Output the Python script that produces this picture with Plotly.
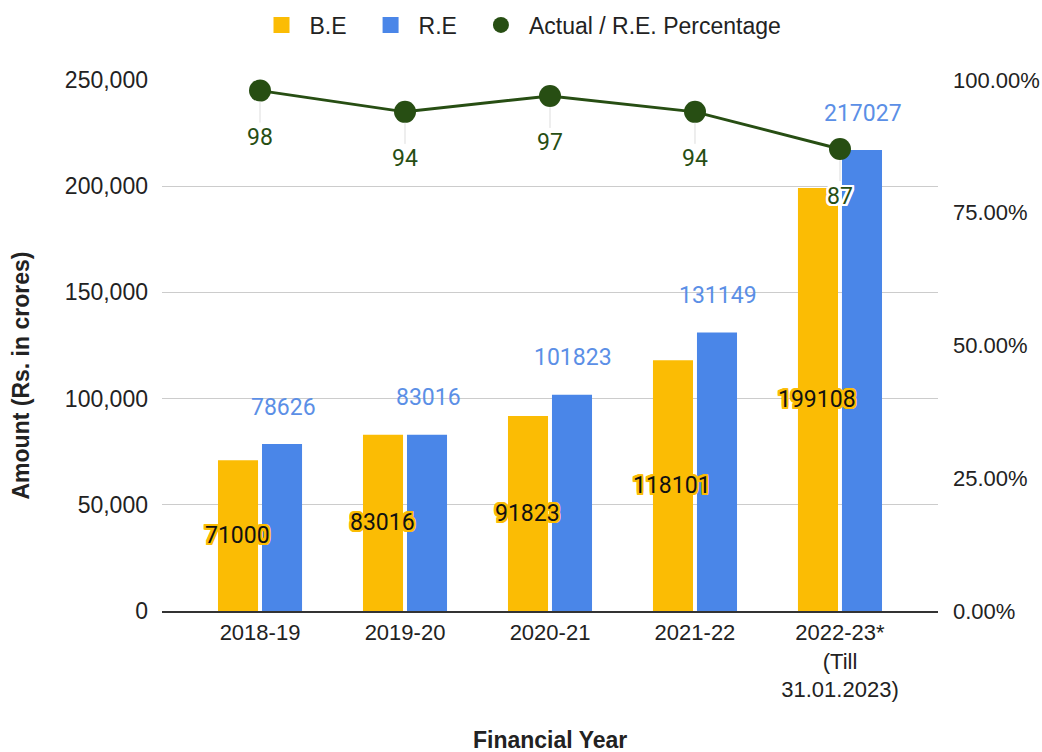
import plotly.graph_objects as go

years = ["2018-19", "2019-20", "2020-21", "2021-22", "2022-23*<br>(Till<br>31.01.2023)"]
be_values = [71000, 83016, 91823, 118101, 199108]
re_values = [78626, 83016, 101823, 131149, 217027]
pct_values = [98, 94, 97, 94, 87]
left_ticks = [0, 50000, 100000, 150000, 200000, 250000]
right_ticks = [0, 25, 50, 75, 100]
legend_names = ["B.E", "R.E", "Actual / R.E. Percentage"]

YELLOW = "#FBBC04"
BLUE = "#4A86E8"
GREEN = "#274E13"
TXT = "#222222"
SANS = "Liberation Sans, Arial"
X_TICK_FONT = dict(family=SANS, size=22, color=TXT)
Y_TICK_FONT = dict(family=SANS, size=23, color=TXT)
Y2_TICK_FONT = dict(family=SANS, size=22, color=TXT)
LABEL_SIZE = 23
PAD = "\u00a0\u2009"


def halo(color):
    return ", ".join(f"{dx}px {dy}px 0 {color}" for dx in (-2, -1, 0, 1, 2) for dy in (-2, -1, 0, 1, 2))


fig = go.Figure()
fig.add_trace(go.Bar(x=years, y=be_values, name=legend_names[0], showlegend=False,
                     marker=dict(color=YELLOW, line=dict(width=0))))
fig.add_trace(go.Bar(x=years, y=re_values, name=legend_names[1], showlegend=False,
                     marker=dict(color=BLUE, line=dict(width=0))))
fig.add_trace(go.Scatter(x=years, y=pct_values, name=legend_names[2], yaxis="y2",
                         mode="lines+markers", line=dict(color=GREEN, width=3),
                         marker=dict(color=GREEN, size=22), cliponaxis=False, showlegend=False))

# legend entries (no data, legend only)
for i, (nm, col, sym) in enumerate(zip(legend_names, [YELLOW, BLUE, GREEN],
                                       ["square", "square", "circle"])):
    fig.add_trace(go.Scatter(x=[None], y=[None], name=nm + (PAD if i < 2 else ""), mode="markers",
                             marker=dict(color=col, size=22, symbol=sym)))

annotations = []
for yr, v in zip(years, be_values):
    annotations.append(dict(x=yr, y=v / 2, xref="x", yref="y", text=str(v), showarrow=False,
                            xshift=-23, yanchor="middle",
                            font=dict(family="Roboto", size=LABEL_SIZE, color="#111111",
                                      shadow=halo(YELLOW))))
for yr, v in zip(years, re_values):
    annotations.append(dict(x=yr, y=v, xref="x", yref="y", text=str(v), showarrow=False,
                            xshift=23, yshift=37, yanchor="middle",
                            font=dict(family="Roboto", size=LABEL_SIZE, color="#5B8FE6")))
for i, (yr, p) in enumerate(zip(years, pct_values)):
    sh = halo("#ffffff") if i == len(years) - 1 else "none"
    annotations.append(dict(x=yr, y=p, xref="x", yref="y2", text=str(p), showarrow=True,
                            ax=0, ay=47, arrowhead=0, arrowwidth=1, arrowcolor="#dddddd",
                            standoff=11,
                            font=dict(family="Roboto", size=LABEL_SIZE, color=GREEN, shadow=sh)))
annotations.append(dict(x=0.5, y=0, xref="paper", yref="paper", yanchor="middle",
                        text="<b>Financial Year</b>", showarrow=False, yshift=-129,
                        font=dict(family=SANS, size=23, color=TXT)))
annotations.append(dict(x=0, y=0.5, xref="paper", yref="paper", xanchor="center", yanchor="middle",
                        text="<b>Amount (Rs. in crores)</b>", showarrow=False, textangle=-90,
                        xshift=-142, yshift=-30,
                        font=dict(family=SANS, size=23, color=TXT)))

fig.update_layout(
    width=1042, height=752,
    margin=dict(l=162, r=104, t=80, b=141, autoexpand=False),
    plot_bgcolor="white", paper_bgcolor="white",
    barmode="group", bargap=0.393, bargroupgap=0.09,
    showlegend=True,
    legend=dict(orientation="h", x=253.5 / 1042, xref="container", xanchor="left",
                y=1 - 25 / 752, yref="container", yanchor="middle",
                font=dict(family=SANS, size=23, color=TXT), traceorder="normal",
                itemclick=False, itemwidth=46),
    xaxis=dict(type="category", range=[-0.676, 4.676], tickfont=X_TICK_FONT, showline=True,
               linecolor="#333333", linewidth=1.5, ticks="", showgrid=False,
               ticklabelstandoff=1, automargin=False),
    yaxis=dict(range=[0, 250000], tickvals=left_ticks, tickformat=",d", tickfont=Y_TICK_FONT,
               gridcolor="#cccccc", gridwidth=1, zeroline=False, ticks="",
               ticklabelstandoff=13, automargin=False),
    yaxis2=dict(range=[0, 100], tickvals=right_ticks, ticktext=[f"{t:.2f}%" for t in right_ticks],
                overlaying="y", side="right", tickfont=Y2_TICK_FONT, showgrid=False,
                zeroline=False, ticklabelstandoff=14, automargin=False),
    annotations=annotations,
)

fig.write_html("out.html", config={"displayModeBar": False},
               post_script="document.body.style.margin='0';document.body.style.overflow='hidden';")
